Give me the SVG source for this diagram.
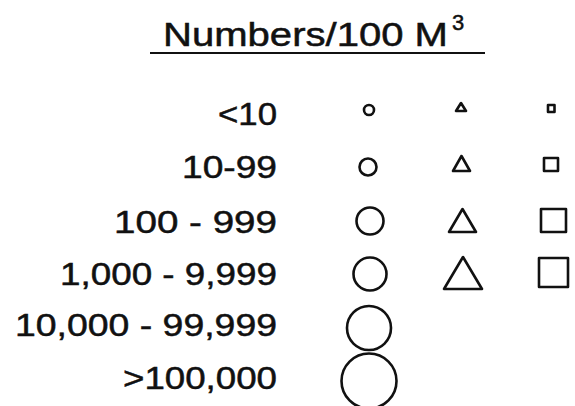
<svg xmlns="http://www.w3.org/2000/svg" width="575" height="406" viewBox="0 0 575 406">
  <style>
    .lbl { font-family: "Liberation Sans", Arial, sans-serif; font-size: 32px; fill: #111; stroke: #111; stroke-width: 0.5; text-anchor: end; }
    .title { font-family: "Liberation Sans", Arial, sans-serif; font-size: 33px; fill: #111; stroke: #111; stroke-width: 0.5; }
    .sym { fill: none; stroke: #111; stroke-width: 2.6; stroke-linejoin: round; }
  </style>
  <rect width="575" height="406" fill="#fff"/>

  <!-- heading -->
  <g id="title">
    <text class="title" x="163" y="46" textLength="285" lengthAdjust="spacingAndGlyphs">Numbers/100 M</text>
    <text class="title" x="452" y="30" style="font-size:22px">3</text>
    <line x1="150" y1="53" x2="485" y2="53" stroke="#111" stroke-width="2"/>
  </g>

  <!-- range labels -->
  <g id="labels">
    <text class="lbl" x="277" y="125" textLength="59" lengthAdjust="spacingAndGlyphs">&lt;10</text>
    <text class="lbl" x="277" y="178" textLength="95" lengthAdjust="spacingAndGlyphs">10-99</text>
    <text class="lbl" x="277" y="233" textLength="163" lengthAdjust="spacingAndGlyphs">100 - 999</text>
    <text class="lbl" x="277" y="285" textLength="217" lengthAdjust="spacingAndGlyphs">1,000 - 9,999</text>
    <text class="lbl" x="277" y="336" textLength="262" lengthAdjust="spacingAndGlyphs">10,000 - 99,999</text>
    <text class="lbl" x="277" y="389" textLength="154" lengthAdjust="spacingAndGlyphs">&gt;100,000</text>
  </g>

  <!-- circle column -->
  <g id="circles" class="sym">
    <circle cx="369" cy="110" r="5"/>
    <circle cx="368" cy="167" r="8.5"/>
    <circle cx="370" cy="221" r="13.5"/>
    <circle cx="370" cy="274" r="16.5"/>
    <circle cx="369" cy="328" r="22"/>
    <circle cx="369" cy="381" r="27.5"/>
  </g>

  <!-- triangle column -->
  <g id="triangles" class="sym">
    <polygon points="461,103 456,111 466,111"/>
    <polygon points="461.5,156 453,171 470,171"/>
    <polygon points="462.5,209 449,232 476,232"/>
    <polygon points="463,257 444,289 482,289"/>
  </g>

  <!-- square column -->
  <g id="squares" class="sym">
    <rect x="548" y="105" width="6.5" height="7"/>
    <rect x="544" y="158" width="14" height="13"/>
    <rect x="541" y="209" width="25" height="23"/>
    <rect x="539" y="258" width="29" height="29"/>
  </g>
</svg>
